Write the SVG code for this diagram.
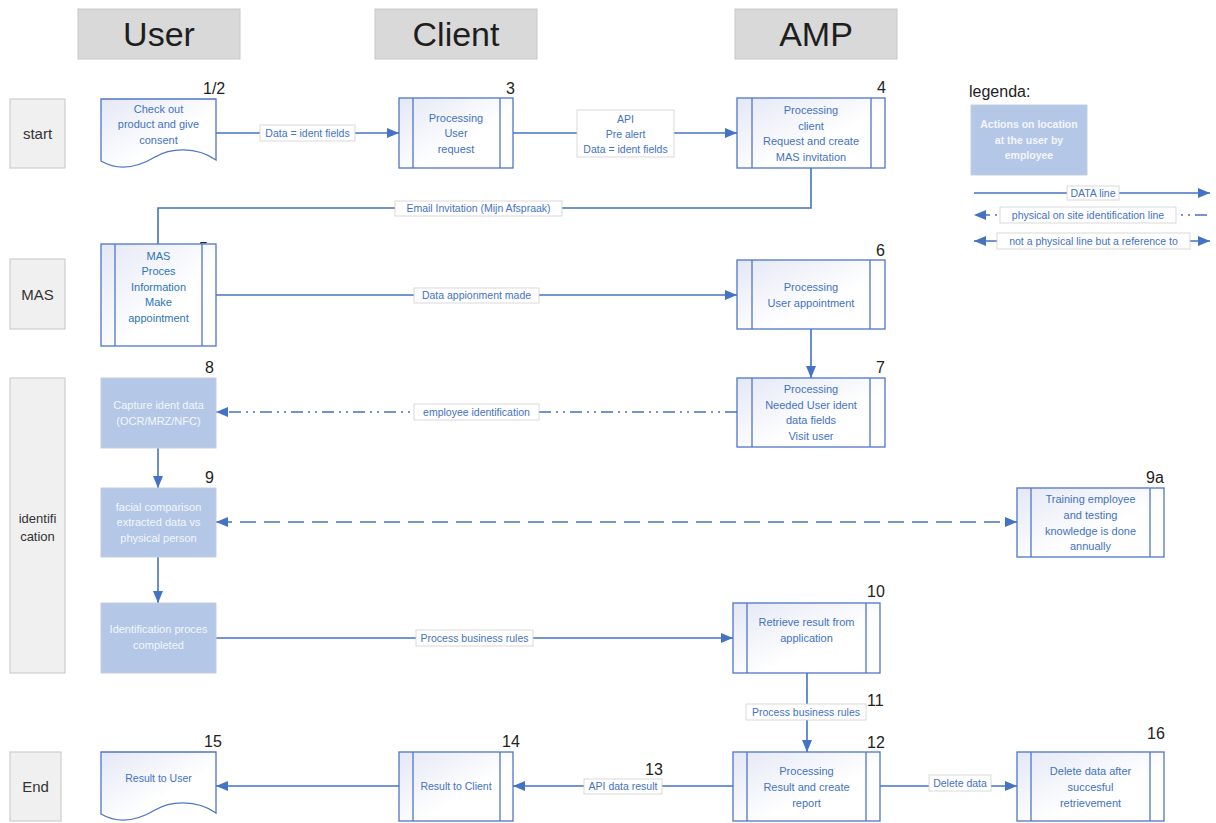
<svg xmlns="http://www.w3.org/2000/svg" width="1216" height="823" viewBox="0 0 1216 823">
<defs>
<linearGradient id="g" x1="0" y1="0" x2="1" y2="1">
<stop offset="0" stop-color="#e4e8f5"/>
<stop offset="0.6" stop-color="#ffffff"/>
</linearGradient>
<marker id="arr" viewBox="0 0 12 10" refX="12" refY="5" markerWidth="12" markerHeight="10" orient="auto-start-reverse" markerUnits="userSpaceOnUse">
<path d="M0,0 L12,5 L0,10 z" fill="#4472c4"/>
</marker>
<style>
.hdr{fill:#d9d9d9;stroke:#c8c8c8;stroke-width:1}
.hdrt{font-family:"Liberation Sans",Arial,sans-serif;font-size:34px;fill:#1e1e1e;text-anchor:middle}
.lane{fill:#f0f0f0;stroke:#c6c6c6;stroke-width:1}
.lanet{font-family:"Liberation Sans",Arial,sans-serif;font-size:15px;fill:#333;text-anchor:middle}
.proc{fill:url(#g);stroke:#4f75c6;stroke-width:1.3}
.bar{stroke:#4f75c6;stroke-width:1.3;fill:none}
.emp{fill:#b4c7e7;stroke:#c5cedd;stroke-width:1}
.t{font-family:"Liberation Sans",Arial,sans-serif;font-size:11px;fill:#4472c4;text-anchor:middle}
.tm{font-family:"Liberation Sans",Arial,sans-serif;font-size:11px;fill:#2e75b6;text-anchor:middle}
.tw{font-family:"Liberation Sans",Arial,sans-serif;font-size:11px;fill:#f3f6fc;text-anchor:middle}
.num{font-family:"Liberation Sans",Arial,sans-serif;font-size:16px;fill:#222}
.e{stroke:#4472c4;stroke-width:1.6;fill:none}
.lb{fill:#fff;stroke:#cfcfcf;stroke-width:0.8}
.lt{font-family:"Liberation Sans",Arial,sans-serif;font-size:10.5px;fill:#4472c4;text-anchor:middle}
</style>
</defs>
<rect width="1216" height="823" fill="#fff"/>

<g id="headers">
<rect class="hdr" x="78" y="9" width="162" height="50"/>
<text class="hdrt" x="159" y="46">User</text>
<rect class="hdr" x="375" y="9" width="162" height="50"/>
<text class="hdrt" x="456" y="46">Client</text>
<rect class="hdr" x="735" y="9" width="162" height="50"/>
<text class="hdrt" x="816" y="46">AMP</text>
</g>

<g id="lanes">
<rect class="lane" x="10" y="99" width="55" height="69"/>
<text class="lanet" x="37.5" y="139">start</text>
<rect class="lane" x="10" y="259" width="55" height="70"/>
<text class="lanet" x="37.5" y="300">MAS</text>
<rect class="lane" x="10" y="378" width="55" height="295"/>
<text class="lanet" x="37.5" y="523" style="font-size:13px">identifi</text>
<text class="lanet" x="37.5" y="541" style="font-size:13px">cation</text>
<rect class="lane" x="10" y="752" width="51" height="69"/>
<text class="lanet" x="35.5" y="792">End</text>
</g>

<g id="connectors">
<!-- 1/2 -> 3 -->
<line class="e" x1="216" y1="133" x2="399" y2="133" marker-end="url(#arr)"/>
<rect class="lb" x="260" y="125" width="95" height="16"/>
<text class="lt" x="307.5" y="137">Data = ident fields</text>
<!-- 3 -> 4 -->
<line class="e" x1="513" y1="133" x2="737" y2="133" marker-end="url(#arr)"/>
<rect class="lb" x="577" y="110" width="97" height="47"/>
<text class="lt" x="625.5" y="123">API</text>
<text class="lt" x="625.5" y="138">Pre alert</text>
<text class="lt" x="625.5" y="153">Data = ident fields</text>
<!-- 4 -> MAS -->
<polyline class="e" points="811,168 811,208 158,208 158,244"/>
<rect class="lb" x="395" y="201" width="167" height="15"/>
<text class="lt" x="478.5" y="212">Email Invitation (Mijn Afspraak)</text>
<!-- MAS -> 6 -->
<line class="e" x1="216" y1="295" x2="737" y2="295" marker-end="url(#arr)"/>
<rect class="lb" x="414" y="288" width="125" height="15"/>
<text class="lt" x="476.5" y="299">Data appionment made</text>
<!-- 6 -> 7 -->
<line class="e" x1="811" y1="329" x2="811" y2="378" marker-end="url(#arr)"/>
<!-- 7 -> 8 -->
<line class="e" x1="737" y1="412" x2="216" y2="412" stroke-dasharray="12 5 2 5 2 5" marker-end="url(#arr)"/>
<rect class="lb" x="414" y="404" width="125" height="16"/>
<text class="lt" x="476.5" y="416">employee identification</text>
<!-- 8 -> 9 -->
<line class="e" x1="158" y1="448" x2="158" y2="488" marker-end="url(#arr)"/>
<!-- 9 -> ident completed -->
<line class="e" x1="158" y1="557" x2="158" y2="603" marker-end="url(#arr)"/>
<!-- 9 <-> 9a -->
<line class="e" x1="216" y1="522" x2="1017" y2="522" stroke-dasharray="16 8" marker-start="url(#arr)" marker-end="url(#arr)"/>
<!-- ident -> 10 -->
<line class="e" x1="216" y1="638" x2="733" y2="638" marker-end="url(#arr)"/>
<rect class="lb" x="416" y="630" width="117" height="16"/>
<text class="lt" x="474.5" y="642">Process business rules</text>
<!-- 10 -> 12 -->
<line class="e" x1="807" y1="673" x2="807" y2="752" marker-end="url(#arr)"/>
<rect class="lb" x="746" y="704" width="120" height="16"/>
<text class="lt" x="806" y="716">Process business rules</text>
<!-- 12 -> 14 -->
<line class="e" x1="733" y1="786" x2="513" y2="786" marker-end="url(#arr)"/>
<rect class="lb" x="584" y="779" width="78" height="15"/>
<text class="lt" x="623" y="790">API data result</text>
<!-- 14 -> 15 -->
<line class="e" x1="399" y1="786" x2="216" y2="786" marker-end="url(#arr)"/>
<!-- 12 -> 16 -->
<line class="e" x1="880" y1="786" x2="1017" y2="786" marker-end="url(#arr)"/>
<rect class="lb" x="929" y="775" width="62" height="16"/>
<text class="lt" x="960" y="787">Delete data</text>
</g>

<g id="n12">
<path class="proc" d="M101,99 H216 V160 C196,146 170,148 155,157 C140,166 120,172 101,161 Z"/>
<text class="t" x="158.5" y="113">Check out</text>
<text class="t" x="158.5" y="128">product and give</text>
<text class="t" x="158.5" y="144">consent</text>
<text class="num" x="203" y="94">1/2</text>
</g>

<g id="n3">
<rect class="proc" x="399" y="98" width="114" height="70"/>
<line class="bar" x1="413" y1="98" x2="413" y2="168"/>
<line class="bar" x1="500" y1="98" x2="500" y2="168"/>
<text class="t" x="456" y="122">Processing</text>
<text class="t" x="456" y="137">User</text>
<text class="t" x="456" y="153">request</text>
<text class="num" x="506" y="94">3</text>
</g>

<g id="n4">
<rect class="proc" x="737" y="98" width="148" height="70"/>
<line class="bar" x1="752" y1="98" x2="752" y2="168"/>
<line class="bar" x1="871" y1="98" x2="871" y2="168"/>
<text class="t" x="811" y="114">Processing</text>
<text class="t" x="811" y="130">client</text>
<text class="t" x="811" y="145">Request and create</text>
<text class="t" x="811" y="161">MAS invitation</text>
<text class="num" x="877" y="93">4</text>
</g>

<g id="n5">
<text class="num" x="199" y="254">5</text>
<rect class="proc" x="101" y="244" width="115" height="102"/>
<line class="bar" x1="115" y1="244" x2="115" y2="346"/>
<line class="bar" x1="202" y1="244" x2="202" y2="346"/>
<text class="tm" x="158.5" y="260">MAS</text>
<text class="tm" x="158.5" y="275">Proces</text>
<text class="tm" x="158.5" y="291">Information</text>
<text class="tm" x="158.5" y="306">Make</text>
<text class="tm" x="158.5" y="322">appointment</text>
</g>

<g id="n6">
<rect class="proc" x="737" y="260" width="148" height="69"/>
<line class="bar" x1="752" y1="260" x2="752" y2="329"/>
<line class="bar" x1="870" y1="260" x2="870" y2="329"/>
<text class="t" x="811" y="291">Processing</text>
<text class="t" x="811" y="307">User appointment</text>
<text class="num" x="876" y="256">6</text>
</g>

<g id="n7">
<rect class="proc" x="737" y="378" width="148" height="69"/>
<line class="bar" x1="752" y1="378" x2="752" y2="447"/>
<line class="bar" x1="870" y1="378" x2="870" y2="447"/>
<text class="t" x="811" y="393">Processing</text>
<text class="t" x="811" y="409">Needed User ident</text>
<text class="t" x="811" y="424">data fields</text>
<text class="t" x="811" y="440">Visit user</text>
<text class="num" x="876" y="373">7</text>
</g>

<g id="n8">
<rect class="emp" x="101" y="378" width="115" height="70"/>
<text class="tw" x="158.5" y="409">Capture ident data</text>
<text class="tw" x="158.5" y="425">(OCR/MRZ/NFC)</text>
<text class="num" x="205" y="373">8</text>
</g>

<g id="n9">
<rect class="emp" x="101" y="488" width="115" height="69"/>
<text class="tw" x="158.5" y="511">facial comparison</text>
<text class="tw" x="158.5" y="526">extracted data vs</text>
<text class="tw" x="158.5" y="542">physical person</text>
<text class="num" x="205" y="483">9</text>
</g>

<g id="n9a">
<rect class="proc" x="1017" y="488" width="147" height="69"/>
<line class="bar" x1="1031" y1="488" x2="1031" y2="557"/>
<line class="bar" x1="1150" y1="488" x2="1150" y2="557"/>
<text class="t" x="1090.5" y="503">Training employee</text>
<text class="t" x="1090.5" y="519">and testing</text>
<text class="t" x="1090.5" y="535">knowledge is done</text>
<text class="t" x="1090.5" y="550">annually</text>
<text class="num" x="1146" y="483">9a</text>
</g>

<g id="nIdent">
<rect class="emp" x="101" y="603" width="115" height="70"/>
<text class="tw" x="158.5" y="633">Identification proces</text>
<text class="tw" x="158.5" y="649">completed</text>
</g>

<g id="n10">
<rect class="proc" x="733" y="603" width="147" height="70"/>
<line class="bar" x1="747" y1="603" x2="747" y2="673"/>
<line class="bar" x1="866" y1="603" x2="866" y2="673"/>
<text class="t" x="806.5" y="626">Retrieve result from</text>
<text class="t" x="806.5" y="642">application</text>
<text class="num" x="867" y="597">10</text>
</g>

<g id="n11">
<text class="num" x="867" y="706">11</text>
</g>

<g id="n12b">
<rect class="proc" x="733" y="752" width="147" height="69"/>
<line class="bar" x1="747" y1="752" x2="747" y2="821"/>
<line class="bar" x1="866" y1="752" x2="866" y2="821"/>
<text class="t" x="806.5" y="775">Processing</text>
<text class="t" x="806.5" y="791">Result and create</text>
<text class="t" x="806.5" y="807">report</text>
<text class="num" x="867" y="748">12</text>
</g>

<g id="n13">
<text class="num" x="645" y="775">13</text>
</g>

<g id="n14">
<rect class="proc" x="399" y="752" width="114" height="69"/>
<line class="bar" x1="413" y1="752" x2="413" y2="821"/>
<line class="bar" x1="500" y1="752" x2="500" y2="821"/>
<text class="t" x="456" y="790" style="font-size:10.5px">Result to Client</text>
<text class="num" x="502" y="747">14</text>
</g>

<g id="n15">
<path class="proc" d="M101,752 H216 V813 C196,799 170,801 155,810 C140,819 120,825 101,814 Z"/>
<text class="t" x="158.5" y="782" style="font-size:10.5px">Result to User</text>
<text class="num" x="204" y="747">15</text>
</g>

<g id="n16">
<rect class="proc" x="1017" y="752" width="147" height="69"/>
<line class="bar" x1="1031" y1="752" x2="1031" y2="821"/>
<line class="bar" x1="1150" y1="752" x2="1150" y2="821"/>
<text class="t" x="1090.5" y="775">Delete data after</text>
<text class="t" x="1090.5" y="791">succesful</text>
<text class="t" x="1090.5" y="807">retrievement</text>
<text class="num" x="1147" y="739">16</text>
</g>

<g id="legend">
<text class="num" x="969" y="97" style="font-size:16px">legenda:</text>
<rect class="emp" x="971" y="105" width="116" height="70"/>
<text class="tw" x="1029" y="128" style="font-weight:bold;font-size:10.5px">Actions on location</text>
<text class="tw" x="1029" y="144" style="font-weight:bold;font-size:10.5px">at the user by</text>
<text class="tw" x="1029" y="159" style="font-weight:bold;font-size:10.5px">employee</text>
<line class="e" x1="974" y1="193" x2="1210" y2="193" marker-end="url(#arr)"/>
<rect class="lb" x="1067" y="186" width="52" height="14"/>
<text class="lt" x="1093" y="197">DATA line</text>
<line class="e" x1="1207" y1="215" x2="974" y2="215" stroke-dasharray="12 5 2 5 2 5" marker-end="url(#arr)"/>
<rect class="lb" x="1000" y="207" width="176" height="16"/>
<text class="lt" x="1088" y="219">physical on site identification line</text>
<line class="e" x1="974" y1="241" x2="1210" y2="241" marker-start="url(#arr)" marker-end="url(#arr)"/>
<rect class="lb" x="997" y="233" width="193" height="16"/>
<text class="lt" x="1093.5" y="245">not a physical line but a reference to</text>
</g>
</svg>
